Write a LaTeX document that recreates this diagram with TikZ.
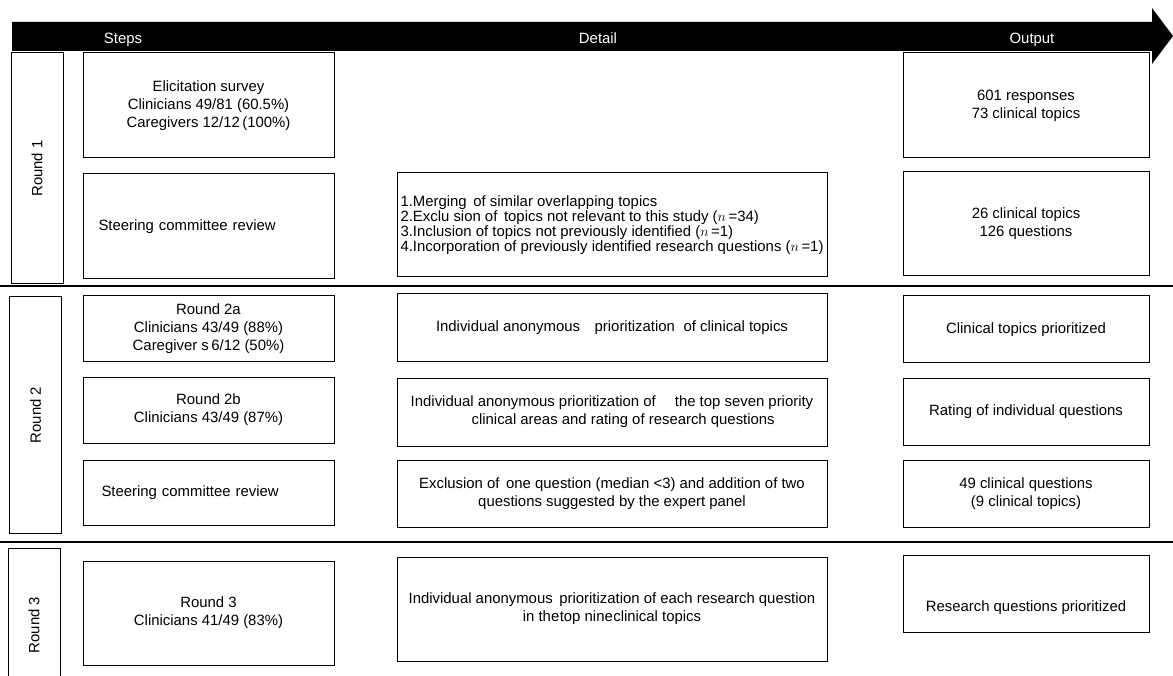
\documentclass[tikz,border=0pt]{standalone}
\usepackage{fontspec}
\setmainfont{Liberation Sans}
\tikzset{
  txt/.style={font=\fontsize{14.9}{18}\selectfont},
  cell/.style={draw, line width=1pt, inner sep=2pt, txt, align=center},
  roundlabel/.style={cell, rotate=90, minimum height=52pt},
  stepbox/.style={cell, minimum width=251pt},
  detailbox/.style={cell, minimum width=430pt},
  outbox/.style={cell, minimum width=246pt},
  sepline/.style={line width=1.6pt},
}
\begin{document}
\begin{tikzpicture}[x=1pt,y=-1pt]
\useasboundingbox (0,0) rectangle (1173,676);

% Timeline arrow
\fill (12,22) -- (1152,22) -- (1152,8) -- (1173,36) -- (1152,64) -- (1152,51) -- (12,51) -- cycle;
\foreach \name/\x/\head in {hsteps/123/Steps, hdetail/598/Detail, houtput/1032/Output}
  \node[txt, text=white, anchor=base] (\name) at (\x,44) {\head};

% Round separators
\draw[sepline] (0,286) -- (1173,286);
\draw[sepline] (0,542) -- (1173,542);

% Round labels
\node[roundlabel, minimum width=231pt] (r1) at (37,168.5) {Round 1};
\node[roundlabel, minimum width=236pt] (r2) at (35.5,415) {Round 2};
\node[roundlabel, minimum width=154pt] (r3) at (34,625) {Round 3};

% Steps
\node[stepbox, minimum height=105pt] (s1a) at (208.5,105.5)
  {Elicitation survey\\Clinicians 49/81 (60.5\%)\\Caregivers 12/12\,(100\%)};
\node[stepbox, minimum height=105pt, text width=220pt, align=left] (s1b) at (208.5,226.5)
  {Steering committee review};
\node[stepbox, minimum height=66pt] (s2a) at (208.5,329)
  {Round 2a\\Clinicians 43/49 (88\%)\\Caregiver s\,6/12 (50\%)};
\node[stepbox, minimum height=66pt] (s2b) at (208.5,410)
  {Round 2b\\Clinicians 43/49 (87\%)};
\node[stepbox, minimum height=65pt, text width=214pt, align=left] (s2c) at (208.5,492.5)
  {Steering committee review};
\node[stepbox, minimum height=104pt] (s3a) at (208.5,613)
  {Round 3\\Clinicians 41/49 (83\%)};

% Detail
\node[detailbox, minimum height=104pt, align=left, inner xsep=1pt,
  font=\fontsize{14.9}{15}\selectfont] (d1b) at (612,225)
  {1.Merging\, of similar overlapping topics\\
   2.Exclu sion of\, topics not relevant to this study ($n$\,=34)\\
   3.Inclusion of topics not previously identified ($n$\,=1)\\
   4.Incorporation of previously identified research questions ($n$\,=1)};
\node[detailbox, minimum height=68pt] (d2a) at (612,328)
  {Individual anonymous\hspace{0.7em} prioritization\hspace{0.3em} of clinical topics};
\node[detailbox, minimum height=68pt] (d2b) at (612,412)
  {Individual anonymous prioritization of\hspace{1em} the top seven priority\\
   \hspace{1.5em}clinical areas and rating of research questions};
\node[detailbox, minimum height=67pt] (d2c) at (612,493.5)
  {Exclusion of\, one question (median <3) and addition of two\\
   questions suggested by the expert panel};
\node[detailbox, minimum height=104pt] (d3a) at (612,609)
  {Individual anonymous\, prioritization of each research question\\
   in the\hspace{0.5pt}top nine\hspace{0.5pt}clinical topics};

% Output
\node[outbox, minimum height=105pt] (o1a) at (1026,105.5)
  {601 responses\\73 clinical topics};
\node[outbox, minimum height=104pt] (o1b) at (1026,224)
  {26 clinical topics\\126 questions};
\node[outbox, minimum height=67pt] (o2a) at (1026,329.5)
  {Clinical topics prioritized};
\node[outbox, minimum height=67pt] (o2b) at (1026,411.5)
  {Rating of individual questions};
\node[outbox, minimum height=67pt] (o2c) at (1026,493.5)
  {49 clinical questions\\(9 clinical topics)};
\node[outbox, minimum height=77pt, text height=40pt] (o3a) at (1026,593.5)
  {Research questions prioritized};

\end{tikzpicture}
\end{document}
